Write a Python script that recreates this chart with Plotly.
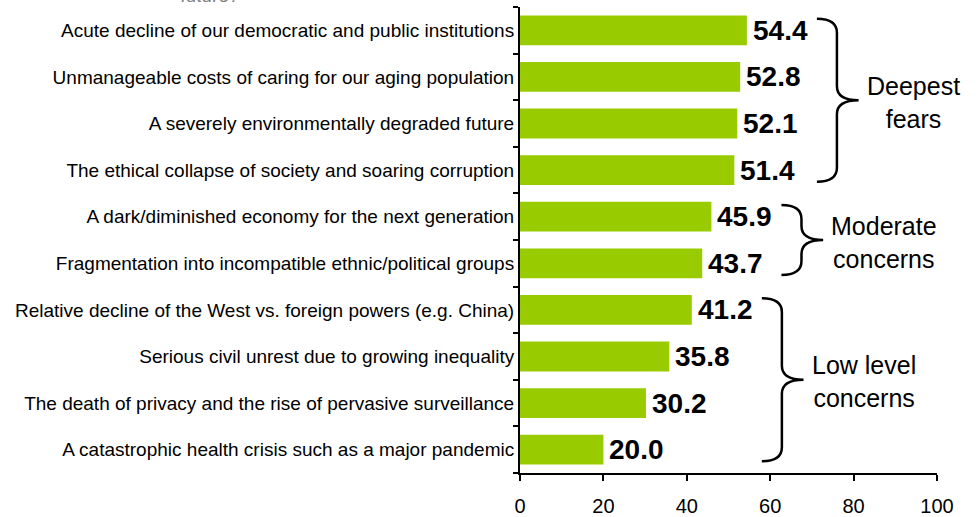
import plotly.graph_objects as go

categories = [
    "Acute decline of our democratic and public institutions",
    "Unmanageable costs of caring for our aging population",
    "A severely environmentally degraded future",
    "The ethical collapse of society and soaring corruption",
    "A dark/diminished economy for the next generation",
    "Fragmentation into incompatible ethnic/political groups",
    "Relative decline of the West vs. foreign powers (e.g. China)",
    "Serious civil unrest due to growing inequality",
    "The death of privacy and the rise of pervasive surveillance",
    "A catastrophic health crisis such as a major pandemic",
]
values = [54.4, 52.8, 52.1, 51.4, 45.9, 43.7, 41.2, 35.8, 30.2, 20.0]
x_ticks = [0, 20, 40, 60, 80, 100]

group_labels = ["Deepest<br>fears", "Moderate<br>concerns", "Low level<br>concerns"]
group_start = [0, 4, 6]
group_end = [3, 5, 9]

FONT = "Liberation Sans, Arial, sans-serif"
idx = list(range(len(categories)))

fig = go.Figure()
fig.add_trace(go.Bar(
    x=values, y=idx, orientation="h",
    marker=dict(color="#99CC00", line=dict(width=0)),
    hoverinfo="skip",
))

shapes = []
annotations = []

# value labels
for v, i in zip(values, idx):
    annotations.append(dict(
        x=v, y=i, xref="x", yref="y", text=f"{v:.1f}", showarrow=False,
        xanchor="left", yanchor="middle", xshift=4,
        font=dict(family=FONT, size=28, color="black", weight="bold"),
    ))

pad = 0.25
r = 0.3
for lab, s, e in zip(group_labels, group_start, group_end):
    vmax = max(values[s:e + 1])
    left = vmax + 16.8
    vert = left + 4.8
    tip = left + 10.0
    top = s - pad
    bot = e + pad
    mid = (top + bot) / 2
    path = (f"M {left},{top} Q {vert},{top} {vert},{top + r} "
            f"L {vert},{mid - r} Q {vert},{mid} {tip},{mid} "
            f"Q {vert},{mid} {vert},{mid + r} "
            f"L {vert},{bot - r} Q {vert},{bot} {left},{bot}")
    shapes.append(dict(type="path", path=path, xref="x", yref="y",
                       line=dict(color="black", width=2.5)))
    annotations.append(dict(
        x=tip + 1.5, y=mid, xref="x", yref="y", text=lab,
        showarrow=False, xanchor="left", yanchor="middle", align="center",
        yshift=-2,
        font=dict(family=FONT, size=25, color="black"),
    ))

annotations.append(dict(
    x=-0.741, y=1.024, xref="paper", yref="paper", text="future?",
    showarrow=False, xanchor="center", yanchor="middle",
    font=dict(family=FONT, size=19, color="#808080", style="italic"),
))

fig.update_layout(
    width=977, height=517,
    margin=dict(l=520, r=40, t=7, b=44, autoexpand=False),
    paper_bgcolor="white", plot_bgcolor="white",
    showlegend=False,
    bargap=0.36,
    shapes=shapes,
    annotations=annotations,
    font=dict(family=FONT, color="black"),
)
fig.update_xaxes(
    range=[0, 100], tickvals=x_ticks, ticks="outside", ticklen=6,
    tickwidth=1.5, tickcolor="black", ticklabelstandoff=8, automargin=False,
    showline=True, linecolor="black", linewidth=2, showgrid=False,
    zeroline=False, tickfont=dict(family=FONT, size=20, color="black"),
)
fig.update_yaxes(
    range=[len(categories) - 0.5, -0.5], tickvals=idx, ticktext=categories,
    ticks="", showline=True, linecolor="black", linewidth=2, showgrid=False,
    zeroline=False, automargin=False,
    tickfont=dict(family=FONT, size=19, color="black"),
    minor=dict(tickvals=[i - 0.5 for i in range(len(categories) + 1)],
               ticks="outside", ticklen=5, tickwidth=1.5, tickcolor="black"),
)

fig.write_html(
    "out.html",
    config={"displayModeBar": False},
    post_script="document.body.style.margin='0';document.body.style.overflow='hidden';",
)
